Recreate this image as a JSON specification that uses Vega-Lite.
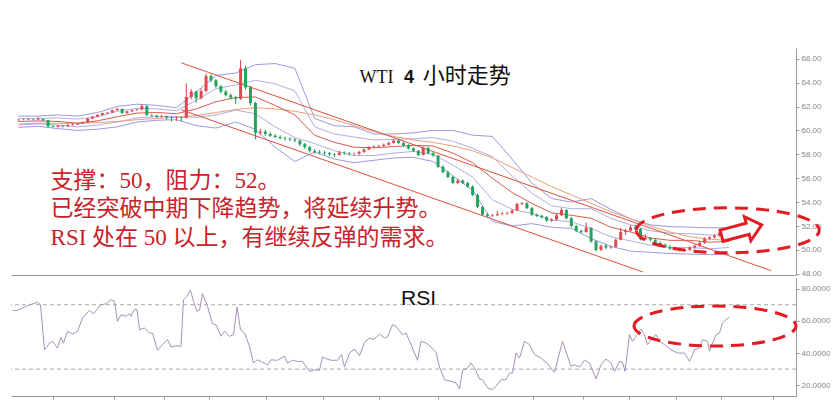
{
"$schema": "https://vega.github.io/schema/vega-lite/v6.json",
"padding": {"left": 10, "top": 48, "right": 0, "bottom": 0},
"background": "white",
"spacing": 0,
"config": {"view": {"stroke": null}, "axis": {"grid": false, "labelFont": "Liberation Sans", "labelFontSize": 8, "labelColor": "#888888", "domainColor": "#9a9a9a", "tickColor": "#9a9a9a", "tickSize": 3, "labelPadding": 2}},
"datasets": {
"candles": [
{"i":0,"o":60.85,"h":60.95,"l":60.82,"c":60.90},{"i":1,"o":60.90,"h":60.95,"l":60.85,"c":60.88},{"i":2,"o":60.88,"h":60.97,"l":60.85,"c":60.92},{"i":3,"o":60.92,"h":60.98,"l":60.86,"c":60.90},{"i":4,"o":60.90,"h":61.15,"l":60.88,"c":60.95},{"i":5,"o":60.95,"h":61.00,"l":60.80,"c":60.85},{"i":6,"o":60.85,"h":60.90,"l":60.25,"c":60.35},{"i":7,"o":60.35,"h":60.45,"l":60.25,"c":60.30},{"i":8,"o":60.30,"h":60.45,"l":60.25,"c":60.40},{"i":9,"o":60.40,"h":60.45,"l":60.25,"c":60.35},
{"i":10,"o":60.35,"h":60.55,"l":60.30,"c":60.45},{"i":11,"o":60.45,"h":60.60,"l":60.40,"c":60.50},{"i":12,"o":60.50,"h":60.65,"l":60.45,"c":60.60},{"i":13,"o":60.60,"h":60.75,"l":60.55,"c":60.70},{"i":14,"o":60.70,"h":61.05,"l":60.65,"c":61.00},{"i":15,"o":61.00,"h":61.20,"l":60.95,"c":61.15},{"i":16,"o":61.15,"h":61.35,"l":61.10,"c":61.30},{"i":17,"o":61.30,"h":61.50,"l":61.25,"c":61.45},{"i":18,"o":61.45,"h":61.55,"l":61.35,"c":61.50},{"i":19,"o":61.50,"h":61.75,"l":61.45,"c":61.70},
{"i":20,"o":61.70,"h":61.90,"l":61.65,"c":61.80},{"i":21,"o":61.80,"h":61.85,"l":61.40,"c":61.45},{"i":22,"o":61.45,"h":61.65,"l":61.40,"c":61.60},{"i":23,"o":61.60,"h":61.75,"l":61.55,"c":61.70},{"i":24,"o":61.70,"h":61.80,"l":61.65,"c":61.75},{"i":25,"o":61.75,"h":62.20,"l":61.70,"c":62.05},{"i":26,"o":62.05,"h":62.10,"l":61.20,"c":61.30},{"i":27,"o":61.30,"h":61.35,"l":61.15,"c":61.25},{"i":28,"o":61.25,"h":61.30,"l":61.05,"c":61.15},{"i":29,"o":61.15,"h":61.30,"l":61.10,"c":61.20},
{"i":30,"o":61.20,"h":61.25,"l":60.90,"c":61.10},{"i":31,"o":61.10,"h":61.15,"l":60.75,"c":61.05},{"i":32,"o":61.05,"h":61.20,"l":60.80,"c":61.10},{"i":33,"o":61.10,"h":61.15,"l":60.75,"c":61.05},{"i":34,"o":61.05,"h":63.95,"l":61.00,"c":62.80},{"i":35,"o":62.80,"h":63.45,"l":62.60,"c":63.25},{"i":36,"o":63.25,"h":63.35,"l":62.30,"c":62.70},{"i":37,"o":62.70,"h":63.50,"l":62.60,"c":63.30},{"i":38,"o":63.30,"h":64.75,"l":63.20,"c":64.55},{"i":39,"o":64.55,"h":64.70,"l":64.05,"c":64.20},
{"i":40,"o":64.20,"h":64.30,"l":63.55,"c":63.70},{"i":41,"o":63.70,"h":63.80,"l":63.10,"c":63.25},{"i":42,"o":63.25,"h":63.40,"l":62.85,"c":62.95},{"i":43,"o":62.95,"h":63.10,"l":62.60,"c":62.75},{"i":44,"o":62.75,"h":62.90,"l":62.20,"c":62.65},{"i":45,"o":62.65,"h":65.90,"l":62.55,"c":65.20},{"i":46,"o":65.20,"h":65.40,"l":63.40,"c":63.60},{"i":47,"o":63.60,"h":63.75,"l":62.10,"c":62.30},{"i":48,"o":62.30,"h":62.40,"l":59.25,"c":59.80},{"i":49,"o":59.80,"h":60.15,"l":59.60,"c":59.90},
{"i":50,"o":59.90,"h":60.05,"l":59.55,"c":59.70},{"i":51,"o":59.70,"h":59.85,"l":59.45,"c":59.55},{"i":52,"o":59.55,"h":59.70,"l":59.35,"c":59.45},{"i":53,"o":59.45,"h":59.60,"l":59.25,"c":59.35},{"i":54,"o":59.35,"h":59.50,"l":59.15,"c":59.30},{"i":55,"o":59.30,"h":59.45,"l":59.10,"c":59.25},{"i":56,"o":59.25,"h":59.35,"l":59.00,"c":59.15},{"i":57,"o":59.15,"h":59.20,"l":58.70,"c":58.85},{"i":58,"o":58.85,"h":58.95,"l":58.45,"c":58.60},{"i":59,"o":58.60,"h":58.70,"l":58.15,"c":58.30},
{"i":60,"o":58.30,"h":58.45,"l":58.05,"c":58.20},{"i":61,"o":58.20,"h":58.35,"l":58.00,"c":58.15},{"i":62,"o":58.15,"h":58.30,"l":57.95,"c":58.10},{"i":63,"o":58.10,"h":58.20,"l":57.85,"c":58.00},{"i":64,"o":58.00,"h":58.10,"l":57.75,"c":57.95},{"i":65,"o":57.95,"h":58.30,"l":57.90,"c":58.15},{"i":66,"o":58.15,"h":58.25,"l":57.95,"c":58.10},{"i":67,"o":58.10,"h":58.20,"l":57.90,"c":58.05},{"i":68,"o":58.05,"h":58.15,"l":57.90,"c":58.05},{"i":69,"o":58.05,"h":58.30,"l":57.95,"c":58.20},
{"i":70,"o":58.20,"h":58.50,"l":58.10,"c":58.40},{"i":71,"o":58.40,"h":58.70,"l":58.35,"c":58.60},{"i":72,"o":58.60,"h":58.75,"l":58.50,"c":58.65},{"i":73,"o":58.65,"h":58.80,"l":58.55,"c":58.70},{"i":74,"o":58.70,"h":58.90,"l":58.60,"c":58.80},{"i":75,"o":58.80,"h":59.05,"l":58.75,"c":58.95},{"i":76,"o":58.95,"h":59.25,"l":58.90,"c":59.15},{"i":77,"o":59.15,"h":59.20,"l":58.85,"c":58.95},{"i":78,"o":58.95,"h":59.05,"l":58.65,"c":58.75},{"i":79,"o":58.75,"h":58.85,"l":58.40,"c":58.50},
{"i":80,"o":58.50,"h":58.60,"l":58.20,"c":58.30},{"i":81,"o":58.30,"h":58.35,"l":57.85,"c":57.95},{"i":82,"o":57.95,"h":58.65,"l":57.90,"c":58.55},{"i":83,"o":58.55,"h":58.60,"l":58.00,"c":58.10},{"i":84,"o":58.10,"h":58.20,"l":57.80,"c":57.90},{"i":85,"o":57.90,"h":57.95,"l":56.85,"c":56.95},{"i":86,"o":56.95,"h":57.10,"l":56.40,"c":56.50},{"i":87,"o":56.50,"h":56.65,"l":56.00,"c":56.10},{"i":88,"o":56.10,"h":56.20,"l":55.50,"c":55.60},{"i":89,"o":55.60,"h":55.95,"l":55.50,"c":55.80},
{"i":90,"o":55.80,"h":55.90,"l":55.50,"c":55.60},{"i":91,"o":55.60,"h":55.70,"l":55.20,"c":55.30},{"i":92,"o":55.30,"h":55.40,"l":54.50,"c":54.60},{"i":93,"o":54.60,"h":54.70,"l":53.50,"c":53.60},{"i":94,"o":53.60,"h":53.70,"l":52.85,"c":52.95},{"i":95,"o":52.95,"h":53.10,"l":52.70,"c":52.85},{"i":96,"o":52.85,"h":53.00,"l":52.75,"c":52.90},{"i":97,"o":52.90,"h":53.30,"l":52.85,"c":53.00},{"i":98,"o":53.00,"h":53.15,"l":52.90,"c":53.05},{"i":99,"o":53.05,"h":53.20,"l":52.95,"c":53.10},
{"i":100,"o":53.10,"h":53.40,"l":53.00,"c":53.30},{"i":101,"o":53.30,"h":53.95,"l":53.25,"c":53.85},{"i":102,"o":53.85,"h":54.00,"l":53.75,"c":53.90},{"i":103,"o":53.90,"h":54.00,"l":53.40,"c":53.50},{"i":104,"o":53.50,"h":53.60,"l":52.85,"c":52.95},{"i":105,"o":52.95,"h":53.05,"l":52.75,"c":52.85},{"i":106,"o":52.85,"h":52.95,"l":52.60,"c":52.75},{"i":107,"o":52.75,"h":52.85,"l":52.35,"c":52.45},{"i":108,"o":52.45,"h":52.65,"l":52.35,"c":52.55},{"i":109,"o":52.55,"h":53.00,"l":52.45,"c":52.90},
{"i":110,"o":52.90,"h":53.50,"l":52.85,"c":53.35},{"i":111,"o":53.35,"h":53.40,"l":52.55,"c":52.65},{"i":112,"o":52.65,"h":52.75,"l":51.90,"c":52.00},{"i":113,"o":52.00,"h":52.10,"l":51.50,"c":51.60},{"i":114,"o":51.60,"h":51.70,"l":51.35,"c":51.50},{"i":115,"o":51.50,"h":52.30,"l":51.45,"c":51.85},{"i":116,"o":51.85,"h":51.90,"l":50.60,"c":50.70},{"i":117,"o":50.70,"h":50.80,"l":49.85,"c":50.00},{"i":118,"o":50.00,"h":50.45,"l":49.90,"c":50.35},{"i":119,"o":50.35,"h":50.50,"l":50.05,"c":50.20},
{"i":120,"o":50.20,"h":50.35,"l":50.10,"c":50.25},{"i":121,"o":50.25,"h":50.95,"l":50.20,"c":50.85},{"i":122,"o":50.85,"h":51.85,"l":50.80,"c":51.50},{"i":123,"o":51.50,"h":51.75,"l":51.25,"c":51.60},{"i":124,"o":51.60,"h":52.10,"l":51.55,"c":51.90},{"i":125,"o":51.90,"h":52.10,"l":51.60,"c":51.75},{"i":126,"o":51.75,"h":51.85,"l":50.80,"c":50.90},{"i":127,"o":50.90,"h":51.30,"l":50.85,"c":51.00},{"i":128,"o":51.00,"h":51.10,"l":50.70,"c":50.85},{"i":129,"o":50.85,"h":50.95,"l":50.50,"c":50.60},
{"i":130,"o":50.60,"h":50.70,"l":50.30,"c":50.40},{"i":131,"o":50.40,"h":50.55,"l":50.15,"c":50.25},{"i":132,"o":50.25,"h":50.40,"l":50.00,"c":50.10},{"i":133,"o":50.10,"h":50.25,"l":49.95,"c":50.05},{"i":134,"o":50.05,"h":50.15,"l":49.85,"c":49.95},{"i":135,"o":49.95,"h":50.10,"l":49.85,"c":50.00},{"i":136,"o":50.00,"h":50.30,"l":49.90,"c":50.20},{"i":137,"o":50.20,"h":50.45,"l":50.10,"c":50.35},{"i":138,"o":50.35,"h":50.70,"l":50.25,"c":50.60},{"i":139,"o":50.60,"h":51.05,"l":50.50,"c":50.95},
{"i":140,"o":50.95,"h":51.15,"l":50.85,"c":51.05},{"i":141,"o":51.05,"h":51.30,"l":50.95,"c":51.20},{"i":142,"o":51.20,"h":51.55,"l":51.10,"c":51.45},{"i":143,"o":51.45,"h":51.75,"l":51.35,"c":51.65},{"i":144,"o":51.65,"h":51.85,"l":51.55,"c":51.75}
],
"bands": [
{"i":0,"ou":61.20,"iu":61.00,"m":60.75,"il":60.45,"ol":60.25,"ma":60.55},
{"i":4,"ou":61.20,"iu":61.00,"m":60.80,"il":60.55,"ol":60.35,"ma":60.60},
{"i":8,"ou":61.30,"iu":61.05,"m":60.75,"il":60.45,"ol":60.15,"ma":60.60},
{"i":12,"ou":61.20,"iu":60.95,"m":60.60,"il":60.30,"ol":60.00,"ma":60.60},
{"i":16,"ou":61.50,"iu":61.15,"m":60.80,"il":60.45,"ol":60.10,"ma":60.65},
{"i":20,"ou":62.00,"iu":61.60,"m":61.15,"il":60.70,"ol":60.30,"ma":60.75},
{"i":24,"ou":62.20,"iu":61.85,"m":61.45,"il":61.05,"ol":60.70,"ma":60.90},
{"i":28,"ou":62.10,"iu":61.80,"m":61.50,"il":61.15,"ol":60.85,"ma":61.00},
{"i":32,"ou":61.90,"iu":61.65,"m":61.40,"il":61.15,"ol":60.90,"ma":61.10},
{"i":36,"ou":63.20,"iu":62.50,"m":61.80,"il":61.10,"ol":60.40,"ma":61.25},
{"i":40,"ou":64.60,"iu":63.50,"m":62.40,"il":61.30,"ol":60.20,"ma":61.50},
{"i":44,"ou":64.80,"iu":63.80,"m":62.75,"il":61.70,"ol":60.70,"ma":61.75},
{"i":48,"ou":65.50,"iu":64.20,"m":62.80,"il":61.40,"ol":60.10,"ma":61.90},
{"i":52,"ou":65.60,"iu":63.90,"m":62.10,"il":60.30,"ol":58.60,"ma":61.80},
{"i":56,"ou":65.20,"iu":63.30,"m":61.30,"il":59.40,"ol":57.40,"ma":61.60},
{"i":60,"ou":61.00,"iu":60.30,"m":59.60,"il":58.90,"ol":58.20,"ma":61.30},
{"i":64,"ou":60.40,"iu":59.70,"m":59.00,"il":58.30,"ol":57.60,"ma":60.90},
{"i":68,"ou":60.30,"iu":59.45,"m":58.60,"il":57.90,"ol":57.30,"ma":60.40},
{"i":72,"ou":59.70,"iu":59.20,"m":58.55,"il":57.90,"ol":57.50,"ma":59.90},
{"i":76,"ou":59.70,"iu":59.25,"m":58.65,"il":58.10,"ol":57.70,"ma":59.50},
{"i":80,"ou":59.80,"iu":59.30,"m":58.75,"il":58.25,"ol":57.75,"ma":59.20},
{"i":84,"ou":60.00,"iu":59.40,"m":58.70,"il":58.00,"ol":57.40,"ma":59.00},
{"i":88,"ou":60.00,"iu":59.10,"m":58.10,"il":57.10,"ol":56.20,"ma":58.70},
{"i":92,"ou":59.60,"iu":58.50,"m":57.30,"il":56.10,"ol":55.00,"ma":58.30},
{"i":96,"ou":59.50,"iu":57.80,"m":56.00,"il":54.20,"ol":52.40,"ma":57.70},
{"i":100,"ou":57.60,"iu":56.20,"m":54.80,"il":53.40,"ol":52.00,"ma":56.90},
{"i":104,"ou":55.60,"iu":54.75,"m":53.90,"il":53.05,"ol":52.20,"ma":56.10},
{"i":108,"ou":54.30,"iu":53.70,"m":53.10,"il":52.50,"ol":51.90,"ma":55.30},
{"i":112,"ou":54.00,"iu":53.45,"m":52.90,"il":52.35,"ol":51.80,"ma":54.60},
{"i":116,"ou":54.30,"iu":53.45,"m":52.65,"il":51.80,"ol":50.95,"ma":53.90},
{"i":120,"ou":53.40,"iu":52.65,"m":51.90,"il":51.10,"ol":50.30,"ma":53.20},
{"i":124,"ou":52.60,"iu":52.10,"m":51.50,"il":50.75,"ol":49.90,"ma":52.60},
{"i":128,"ou":52.10,"iu":51.60,"m":51.00,"il":50.40,"ol":49.80,"ma":52.00},
{"i":132,"ou":51.95,"iu":51.40,"m":50.80,"il":50.20,"ol":49.70,"ma":51.50},
{"i":136,"ou":51.90,"iu":51.35,"m":50.80,"il":50.20,"ol":49.65,"ma":51.10},
{"i":140,"ou":51.85,"iu":51.25,"m":50.65,"il":50.10,"ol":49.60,"ma":50.90},
{"i":144,"ou":51.85,"iu":51.25,"m":50.70,"il":50.20,"ol":49.65,"ma":50.80}
],
"chan": [
{"i":33,"v":65.66,"s":"a"},{"i":152.5,"v":48.26,"s":"a"},
{"i":33,"v":61.73,"s":"b"},{"i":126.5,"v":48.15,"s":"b"}
],
"rsi": [
{"i":-0.2,"r":66.5},{"i":0.8,"r":66.5},{"i":2.5,"r":69},{"i":3.8,"r":70.6},{"i":4.8,"r":71.5},{"i":5.4,"r":70},{"i":6.2,"r":42},{"i":7.2,"r":46.2},{"i":7.8,"r":47.3},{"i":8.8,"r":43.1},
{"i":9.5,"r":49.7},{"i":10,"r":46.2},{"i":10.8,"r":53.5},{"i":11.8,"r":51.8},{"i":12.8,"r":53.5},{"i":13.8,"r":61.7},{"i":15.2,"r":66.5},{"i":16,"r":64.4},{"i":17.5,"r":70},{"i":18.5,"r":70.6},
{"i":19.5,"r":73.1},{"i":20.2,"r":72.1},{"i":20.8,"r":59.7},{"i":21.5,"r":63.8},{"i":22.5,"r":62.8},{"i":23.2,"r":64.4},{"i":23.5,"r":62.8},{"i":24.2,"r":67.3},{"i":24.7,"r":66.9},{"i":25.2,"r":54.5},
{"i":26.2,"r":55.5},{"i":27.2,"r":52.4},{"i":27.8,"r":52.4},{"i":28.8,"r":41.7},{"i":29.8,"r":45.2},{"i":30.8,"r":48.3},{"i":31.5,"r":43.7},{"i":32.5,"r":44.5},{"i":33.5,"r":44.2},{"i":34,"r":73.1},
{"i":34.7,"r":75.2},{"i":35.4,"r":79},{"i":36,"r":72.1},{"i":36.7,"r":65.9},{"i":37.2,"r":66.5},{"i":37.8,"r":76.8},{"i":38.8,"r":69},{"i":39.8,"r":58.2},{"i":40.5,"r":57.6},{"i":41.5,"r":50.4},
{"i":42.2,"r":53.5},{"i":43.2,"r":50.4},{"i":44,"r":51.4},{"i":44.7,"r":68.6},{"i":45.4,"r":54.5},{"i":46.2,"r":52.4},{"i":47.2,"r":44.2},{"i":48,"r":33.8},{"i":48.8,"r":35.8},{"i":49.8,"r":34.2},
{"i":50.8,"r":32.7},{"i":51.5,"r":35.8},{"i":52.8,"r":35.5},{"i":54.2,"r":38},{"i":54.8,"r":33.8},{"i":55.8,"r":35.5},{"i":56.8,"r":34.8},{"i":57.8,"r":34.8},{"i":59.2,"r":28.6},{"i":60.5,"r":29.6},
{"i":61.2,"r":29.2},{"i":61.8,"r":37.5},{"i":62.7,"r":36.3},{"i":63.5,"r":35.5},{"i":64.8,"r":35.5},{"i":65.6,"r":39},{"i":66.2,"r":31.3},{"i":67.2,"r":40},{"i":68.2,"r":42.5},{"i":69.2,"r":38.3},
{"i":70.2,"r":46.6},{"i":71.2,"r":49.3},{"i":72,"r":48.3},{"i":73.2,"r":51.8},{"i":74.2,"r":49.3},{"i":74.8,"r":49.9},{"i":75.8,"r":57.6},{"i":76.5,"r":56.6},{"i":77.8,"r":51.4},{"i":78.5,"r":52.4},
{"i":79.5,"r":45.2},{"i":80.8,"r":35.5},{"i":81.5,"r":47.3},{"i":82.5,"r":46.2},{"i":83.5,"r":43.7},{"i":84.5,"r":40.4},{"i":85.2,"r":31.3},{"i":86.2,"r":23.4},{"i":87.5,"r":22.4},{"i":88.5,"r":21.4},
{"i":89.2,"r":17.6},{"i":89.8,"r":29.2},{"i":90.8,"r":30.7},{"i":91.5,"r":33.8},{"i":92.2,"r":30.7},{"i":93.2,"r":23.9},{"i":93.8,"r":23.4},{"i":94.8,"r":18.3},{"i":95.8,"r":17.2},{"i":96.5,"r":19.3},
{"i":97.5,"r":23.4},{"i":98.5,"r":23.4},{"i":99.2,"r":27.6},{"i":99.8,"r":27.6},{"i":100.5,"r":40},{"i":101.2,"r":36.9},{"i":102.2,"r":47.3},{"i":103.2,"r":45.2},{"i":104.2,"r":39},{"i":105.5,"r":36.9},
{"i":106.8,"r":33.4},{"i":108.2,"r":28},{"i":109.8,"r":47.3},{"i":111.5,"r":31.7},{"i":112.2,"r":32.7},{"i":113.2,"r":31.3},{"i":114.2,"r":35.5},{"i":115.2,"r":33.8},{"i":116.5,"r":23.9},{"i":117.5,"r":32.7},
{"i":118.5,"r":36.3},{"i":119.5,"r":33.8},{"i":120.2,"r":28.6},{"i":121.2,"r":34.8},{"i":121.8,"r":34.2},{"i":122.3,"r":28.6},{"i":123.2,"r":51.4},{"i":123.8,"r":47.3},{"i":124.8,"r":51.4},{"i":125.5,"r":54.9},
{"i":126.2,"r":51.4},{"i":126.8,"r":45.2},{"i":127.8,"r":49.3},{"i":128.5,"r":51.4},{"i":129.2,"r":47.3},{"i":130.2,"r":45.2},{"i":131.5,"r":42},{"i":132.8,"r":40},{"i":134.2,"r":40},{"i":135.2,"r":34.8},
{"i":136.2,"r":42},{"i":137.2,"r":43.1},{"i":137.8,"r":48.3},{"i":138.8,"r":47.3},{"i":139.2,"r":41.1},{"i":139.8,"r":46.2},{"i":140.5,"r":51.4},{"i":141.2,"r":52.4},{"i":141.8,"r":58.6},{"i":142.5,"r":60.7},
{"i":143.2,"r":62.4}
],
"levels": [{"v":70},{"v":30}],
"t1": [{"i":69.1,"v":63.99,"t":"WTI"}],
"t2": [{"i":78.1,"v":63.99,"t":"4"}],
"t3": [{"i":81.9,"v":63.99,"t":"小时走势"}],
"notes": [
{"i":6.5,"v":55.2,"t":"支撑：50，阻力：52。"},
{"i":6.5,"v":52.81,"t":"已经突破中期下降趋势，将延续升势。"},
{"i":6.5,"v":50.42,"t":"RSI 处在 50 以上，有继续反弹的需求。"}
],
"rsilabel": [{"i":77.5,"v":69.8,"t":"RSI"}],
"ell1": [{"i":143.7,"v":51.64}],
"ell2": [{"i":140.3,"v":56.8}],
"arrow": [{"i":146.5,"v":51.64}]
},
"vconcat": [
{
"width": 785, "height": 227,
"layer": [
{"data": {"name": "bands"},
 "transform": [{"fold": ["ou","iu","il","ol","ma","m"], "as": ["k","val"]}],
 "mark": {"type": "line", "strokeWidth": 1},
 "encoding": {
  "x": {"field": "i", "type": "quantitative", "scale": {"domain": [-0.5,156.5], "nice": false, "zero": false}, "axis": {"orient": "bottom", "ticks": false, "labels": false, "title": null}},
  "y": {"field": "val", "type": "quantitative", "scale": {"domain": [47.9,66.9], "nice": false, "zero": false}, "axis": {"orient": "right", "values": [48,50,52,54,56,58,60,62,64,66], "format": ".2f", "title": null}},
  "color": {"field": "k", "type": "nominal", "legend": null, "scale": {"domain": ["ou","iu","il","ol","ma","m"], "range": ["#9a9ade","#aeaee2","#aeaee2","#9a9ade","#e9a07a","#d65b4e"]}},
  "detail": {"field": "k"}
 }},
{"data": {"name": "chan"},
 "mark": {"type": "line", "strokeWidth": 1, "color": "#e0503f"},
 "encoding": {
  "x": {"field": "i", "type": "quantitative", "scale": {"domain": [-0.5,156.5], "nice": false, "zero": false}, "axis": {"orient": "bottom", "ticks": false, "labels": false, "title": null}},
  "y": {"field": "v", "type": "quantitative", "scale": {"domain": [47.9,66.9], "nice": false, "zero": false}, "axis": {"orient": "right", "values": [48,50,52,54,56,58,60,62,64,66], "format": ".2f", "title": null}},
  "detail": {"field": "s"}
 }},
{"data": {"name": "candles"},
 "mark": {"type": "rule", "strokeWidth": 1},
 "encoding": {
  "x": {"field": "i", "type": "quantitative", "scale": {"domain": [-0.5,156.5], "nice": false, "zero": false}, "axis": {"orient": "bottom", "ticks": false, "labels": false, "title": null}},
  "y": {"field": "l", "type": "quantitative", "scale": {"domain": [47.9,66.9], "nice": false, "zero": false}, "axis": {"orient": "right", "values": [48,50,52,54,56,58,60,62,64,66], "format": ".2f", "title": null}},
  "y2": {"field": "h"},
  "color": {"condition": {"test": "datum.c >= datum.o", "value": "#d9444a"}, "value": "#1f9a55"}
 }},
{"data": {"name": "candles"},
 "mark": {"type": "bar", "size": 3},
 "encoding": {
  "x": {"field": "i", "type": "quantitative", "scale": {"domain": [-0.5,156.5], "nice": false, "zero": false}, "axis": {"orient": "bottom", "ticks": false, "labels": false, "title": null}},
  "y": {"field": "o", "type": "quantitative", "scale": {"domain": [47.9,66.9], "nice": false, "zero": false}, "axis": {"orient": "right", "values": [48,50,52,54,56,58,60,62,64,66], "format": ".2f", "title": null}},
  "y2": {"field": "c"},
  "color": {"condition": {"test": "datum.c >= datum.o", "value": "#e0484d"}, "value": "#23a35b"}
 }},
{"data": {"name": "t1"},
 "mark": {"type": "text", "align": "left", "baseline": "alphabetic", "font": "Liberation Serif", "fontSize": 18, "color": "#111111"},
 "encoding": {
  "x": {"field": "i", "type": "quantitative", "scale": {"domain": [-0.5,156.5], "nice": false, "zero": false}, "axis": {"orient": "bottom", "ticks": false, "labels": false, "title": null}},
  "y": {"field": "v", "type": "quantitative", "scale": {"domain": [47.9,66.9], "nice": false, "zero": false}, "axis": {"orient": "right", "values": [48,50,52,54,56,58,60,62,64,66], "format": ".2f", "title": null}},
  "text": {"field": "t"}
 }},
{"data": {"name": "t2"},
 "mark": {"type": "text", "align": "left", "baseline": "alphabetic", "font": "Liberation Sans", "fontWeight": "bold", "fontSize": 18, "color": "#111111"},
 "encoding": {
  "x": {"field": "i", "type": "quantitative", "scale": {"domain": [-0.5,156.5], "nice": false, "zero": false}, "axis": {"orient": "bottom", "ticks": false, "labels": false, "title": null}},
  "y": {"field": "v", "type": "quantitative", "scale": {"domain": [47.9,66.9], "nice": false, "zero": false}, "axis": {"orient": "right", "values": [48,50,52,54,56,58,60,62,64,66], "format": ".2f", "title": null}},
  "text": {"field": "t"}
 }},
{"data": {"name": "t3"},
 "mark": {"type": "text", "align": "left", "baseline": "alphabetic", "font": "Noto Sans CJK SC", "fontSize": 22, "color": "#111111"},
 "encoding": {
  "x": {"field": "i", "type": "quantitative", "scale": {"domain": [-0.5,156.5], "nice": false, "zero": false}, "axis": {"orient": "bottom", "ticks": false, "labels": false, "title": null}},
  "y": {"field": "v", "type": "quantitative", "scale": {"domain": [47.9,66.9], "nice": false, "zero": false}, "axis": {"orient": "right", "values": [48,50,52,54,56,58,60,62,64,66], "format": ".2f", "title": null}},
  "text": {"field": "t"}
 }},
{"data": {"name": "notes"},
 "mark": {"type": "text", "align": "left", "baseline": "alphabetic", "font": "Liberation Serif, Noto Sans CJK SC", "fontSize": 23, "color": "#c8232b"},
 "encoding": {
  "x": {"field": "i", "type": "quantitative", "scale": {"domain": [-0.5,156.5], "nice": false, "zero": false}, "axis": {"orient": "bottom", "ticks": false, "labels": false, "title": null}},
  "y": {"field": "v", "type": "quantitative", "scale": {"domain": [47.9,66.9], "nice": false, "zero": false}, "axis": {"orient": "right", "values": [48,50,52,54,56,58,60,62,64,66], "format": ".2f", "title": null}},
  "text": {"field": "t"}
 }},
{"data": {"name": "ell1"},
 "mark": {"type": "point", "shape": "M -1 0 C -1 -0.136 -0.552 -0.246 0 -0.246 C 0.552 -0.246 1 -0.136 1 0 C 1 0.136 0.552 0.246 0 0.246 C -0.552 0.246 -1 0.136 -1 0 Z", "size": 33489, "filled": false, "stroke": "#e31b23", "strokeWidth": 3, "strokeDash": [13, 8], "opacity": 1},
 "encoding": {
  "x": {"field": "i", "type": "quantitative", "scale": {"domain": [-0.5,156.5], "nice": false, "zero": false}, "axis": {"orient": "bottom", "ticks": false, "labels": false, "title": null}},
  "y": {"field": "v", "type": "quantitative", "scale": {"domain": [47.9,66.9], "nice": false, "zero": false}, "axis": {"orient": "right", "values": [48,50,52,54,56,58,60,62,64,66], "format": ".2f", "title": null}}
 }},
{"data": {"name": "arrow"},
 "mark": {"type": "point", "shape": "M -1 -0.28 L 0.3 -0.28 L 0.3 -0.6 L 1 0 L 0.3 0.6 L 0.3 0.28 L -1 0.28 Z", "size": 1722, "filled": true, "fill": "white", "stroke": "#e31b23", "strokeWidth": 3, "angle": 345, "opacity": 1},
 "encoding": {
  "x": {"field": "i", "type": "quantitative", "scale": {"domain": [-0.5,156.5], "nice": false, "zero": false}, "axis": {"orient": "bottom", "ticks": false, "labels": false, "title": null}},
  "y": {"field": "v", "type": "quantitative", "scale": {"domain": [47.9,66.9], "nice": false, "zero": false}, "axis": {"orient": "right", "values": [48,50,52,54,56,58,60,62,64,66], "format": ".2f", "title": null}}
 }}
]
},
{
"width": 785, "height": 118,
"layer": [
{"data": {"name": "levels"},
 "mark": {"type": "rule", "strokeWidth": 1, "color": "#aaaaaa", "strokeDash": [4, 3]},
 "encoding": {
  "y": {"field": "v", "type": "quantitative", "scale": {"domain": [13.3,86.6], "nice": false, "zero": false}, "axis": {"orient": "right", "values": [20,40,60,80], "format": ".4f", "title": null}}
 }},
{"data": {"name": "rsi"},
 "mark": {"type": "line", "strokeWidth": 1, "color": "#a591b8"},
 "encoding": {
  "x": {"field": "i", "type": "quantitative", "scale": {"domain": [-0.5,156.5], "nice": false, "zero": false}, "axis": {"orient": "bottom", "values": [7.9,20.1,30.1,39.1,50.5,61.9,73.1,84.9,103.9,113.9,123.1,132.5,141.5,151.9], "labels": false, "title": null}},
  "y": {"field": "r", "type": "quantitative", "scale": {"domain": [13.3,86.6], "nice": false, "zero": false}, "axis": {"orient": "right", "values": [20,40,60,80], "format": ".4f", "title": null}}
 }},
{"data": {"name": "rsilabel"},
 "mark": {"type": "text", "align": "left", "baseline": "alphabetic", "font": "Liberation Sans", "fontSize": 21, "color": "#111111"},
 "encoding": {
  "x": {"field": "i", "type": "quantitative", "scale": {"domain": [-0.5,156.5], "nice": false, "zero": false}, "axis": {"orient": "bottom", "values": [7.9,20.1,30.1,39.1,50.5,61.9,73.1,84.9,103.9,113.9,123.1,132.5,141.5,151.9], "labels": false, "title": null}},
  "y": {"field": "v", "type": "quantitative", "scale": {"domain": [13.3,86.6], "nice": false, "zero": false}, "axis": {"orient": "right", "values": [20,40,60,80], "format": ".4f", "title": null}},
  "text": {"field": "t"}
 }},
{"data": {"name": "ell2"},
 "mark": {"type": "point", "shape": "M -1 0 C -1 -0.136 -0.552 -0.247 0 -0.247 C 0.552 -0.247 1 -0.136 1 0 C 1 0.136 0.552 0.247 0 0.247 C -0.552 0.247 -1 0.136 -1 0 Z", "size": 26244, "filled": false, "stroke": "#e31b23", "strokeWidth": 3, "strokeDash": [13, 8], "opacity": 1},
 "encoding": {
  "x": {"field": "i", "type": "quantitative", "scale": {"domain": [-0.5,156.5], "nice": false, "zero": false}, "axis": {"orient": "bottom", "values": [7.9,20.1,30.1,39.1,50.5,61.9,73.1,84.9,103.9,113.9,123.1,132.5,141.5,151.9], "labels": false, "title": null}},
  "y": {"field": "v", "type": "quantitative", "scale": {"domain": [13.3,86.6], "nice": false, "zero": false}, "axis": {"orient": "right", "values": [20,40,60,80], "format": ".4f", "title": null}}
 }}
]
}
]
}
